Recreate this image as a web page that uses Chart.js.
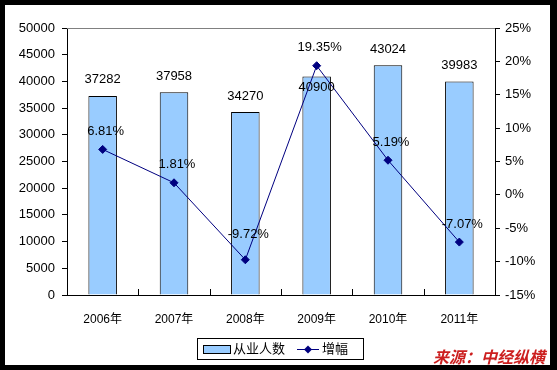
<!DOCTYPE html>
<html>
<head>
<meta charset="utf-8">
<script src="https://cdn.jsdelivr.net/npm/chart.js@4/dist/chart.umd.min.js"></script>
<style>
  html, body { margin: 0; padding: 0; background: #000; }
  #wrap { width: 557px; height: 370px; position: relative; }
</style>
</head>
<body>
<div id="wrap"><canvas id="chart" width="557" height="370"></canvas></div>
<script>
// 数据
const years = ['2006年', '2007年', '2008年', '2009年', '2010年', '2011年'];
const employees = [37282, 37958, 34270, 40900, 43024, 39983];
const growth = [6.81, 1.81, -9.72, 19.35, 5.19, -7.07];
const growthLabels = ['6.81%', '1.81%', '-9.72%', '19.35%', '5.19%', '-7.07%'];

const latin = 'Arial, "Liberation Sans", sans-serif';
const cjk = 'Arial, "Liberation Sans", "Noto Sans CJK SC", sans-serif';

// 背景、边框、数据标签、图例、来源
const decor = {
    id: 'decor',
    beforeDraw(chart) {
        const c = chart.ctx;
        c.save();
        c.fillStyle = '#000';
        c.fillRect(0, 0, 557, 370);
        c.fillStyle = '#fff';
        c.fillRect(5, 5, 545, 360);
        c.restore();
    },
    afterDatasetsDraw(chart) {
        const c = chart.ctx;
        const area = chart.chartArea;
        c.save();
        // 上边框
        c.strokeStyle = '#808080';
        c.lineWidth = 1;
        c.beginPath();
        c.moveTo(area.left, area.top + 0.5);
        c.lineTo(area.right, area.top + 0.5);
        c.stroke();

        // x 轴刻度（朝内）
        c.strokeStyle = '#000';
        const step = (area.right - area.left) / years.length;
        c.beginPath();
        for (let i = 1; i < years.length; i++) {
            const x = Math.round(area.left + step * i) + 0.5;
            c.moveTo(x, area.bottom);
            c.lineTo(x, area.bottom - 6);
        }
        c.stroke();

        c.font = '13px ' + latin;
        c.fillStyle = '#000';
        c.textAlign = 'center';
        c.textBaseline = 'middle';
        chart.getDatasetMeta(1).data.forEach((bar, i) => {
            // 2009年 的标签在柱内
            const y = i === 3 ? bar.y + 11 : bar.y - 16;
            c.fillText(String(employees[i]), bar.x, y);
        });
        chart.getDatasetMeta(0).data.forEach((pt, i) => {
            const dy = i === 2 ? 25 : 18;
            c.fillText(growthLabels[i], pt.x + 3, pt.y - dy);
        });

        // 图例
        c.strokeStyle = '#000';
        c.lineWidth = 1;
        c.strokeRect(197.5, 338.5, 166, 21);
        c.fillStyle = '#99ccff';
        c.fillRect(203.5, 345.5, 27, 8);
        c.strokeRect(203.5, 345.5, 27, 8);
        c.fillStyle = '#000';
        c.textAlign = 'left';
        c.font = '13px ' + cjk;
        c.fillText('从业人数', 233, 349.5);
        c.strokeStyle = '#000080';
        c.beginPath();
        c.moveTo(297, 349.5);
        c.lineTo(319, 349.5);
        c.stroke();
        c.fillStyle = '#000080';
        c.beginPath();
        c.moveTo(308, 345.5);
        c.lineTo(312, 349.5);
        c.lineTo(308, 353.5);
        c.lineTo(304, 349.5);
        c.closePath();
        c.fill();
        c.fillStyle = '#000';
        c.fillText('增幅', 322, 349.5);

        // 来源
        c.fillStyle = '#cc1f1f';
        c.font = 'italic bold 16px "Noto Sans CJK SC", sans-serif';
        c.textAlign = 'left';
        c.fillText('来源：中经纵横', 433, 357);
        c.restore();
    }
};

const config = {
    data: {
        labels: years,
        datasets: [{
            type: 'line',
            label: '增幅',
            data: growth,
            yAxisID: 'y1',
            borderColor: '#000080',
            backgroundColor: '#000080',
            borderWidth: 1,
            pointStyle: 'rectRot',
            pointRadius: 4,
            pointHoverRadius: 4,
            tension: 0,
            order: 0
        }, {
            type: 'bar',
            label: '从业人数',
            data: employees,
            yAxisID: 'y',
            backgroundColor: '#99ccff',
            borderColor: '#000',
            borderWidth: 1,
            categoryPercentage: 1,
            barPercentage: 0.4,
            order: 1
        }]
    },
    options: {
        responsive: false,
        animation: false,
        events: [],
        layout: { padding: { top: 28, left: 0, right: 0, bottom: 0 } },
        plugins: { legend: { display: false }, tooltip: { enabled: false } },
        scales: {
            x: {
                offset: true,
                grid: { display: false },
                border: { display: true, color: '#000', width: 1 },
                ticks: {
                    color: '#000',
                    font: { family: cjk, size: 12 },
                    padding: 9
                },
                afterFit(scale) { scale.height = 75; }
            },
            y: {
                position: 'left',
                min: 0,
                max: 50000,
                grid: {
                    drawOnChartArea: false,
                    tickLength: 5,
                    color: '#000'
                },
                border: { display: true, color: '#000', width: 1 },
                ticks: {
                    stepSize: 5000,
                    color: '#000',
                    padding: 7,
                    font: { family: latin, size: 13 },
                    callback: v => String(v)
                },
                afterFit(scale) { scale.width = 67; }
            },
            y1: {
                position: 'right',
                min: -15,
                max: 25,
                grid: {
                    drawOnChartArea: false,
                    tickLength: 5,
                    color: '#000'
                },
                border: { display: true, color: '#000', width: 1 },
                ticks: {
                    stepSize: 5,
                    color: '#000',
                    padding: 5,
                    font: { family: latin, size: 13 },
                    callback: v => v + '%'
                },
                afterFit(scale) { scale.width = 62; }
            }
        }
    },
    plugins: [decor]
};

window.onload = function() {
    const ctx = document.getElementById('chart').getContext('2d');
    new Chart(ctx, config);
};
</script>
</body>
</html>
